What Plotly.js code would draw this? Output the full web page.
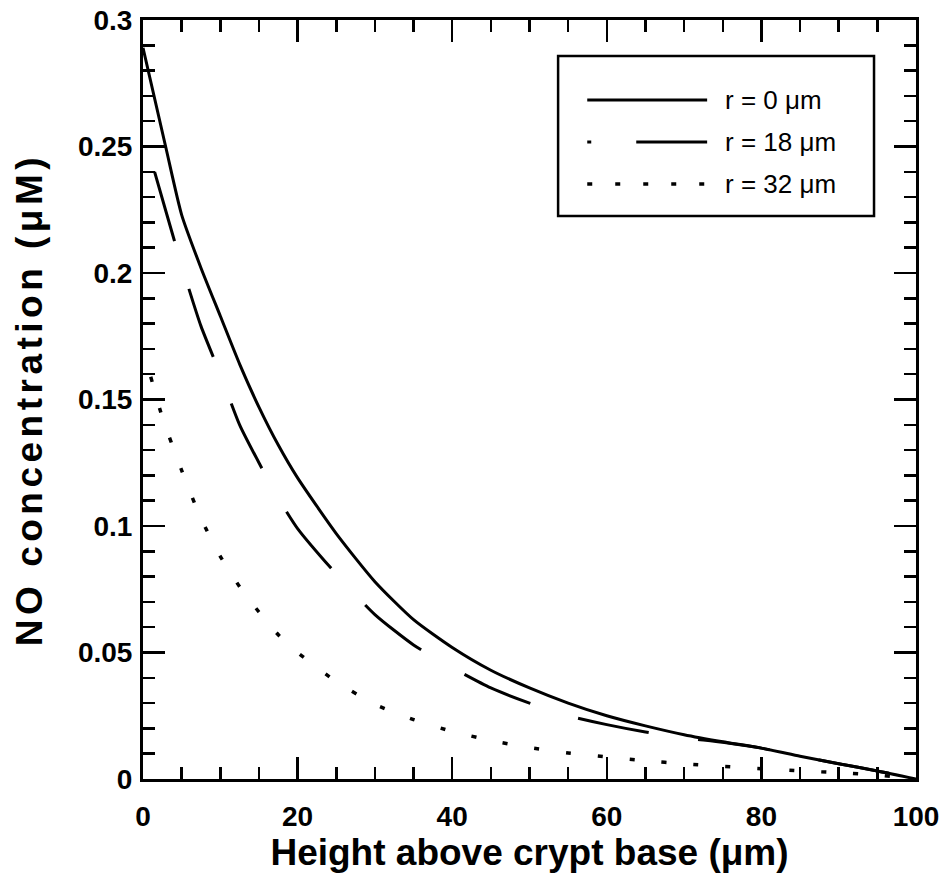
<!DOCTYPE html>
<html>
<head>
<meta charset="utf-8">
<script src="https://cdn.plot.ly/plotly-3.0.1.min.js"></script>
<style>
html,body{margin:0;padding:0;background:#fff;}
#chart{width:940px;height:892px;}
#chart .ytitle{letter-spacing:4.5px;}
</style>
</head>
<body>
<div id="chart"></div>
<script>
// Height above crypt base (µm)
const heightR0  = [0, 3, 5, 7.5, 10, 12.5, 15, 17.5, 20, 25, 30, 35, 40, 45, 50, 55, 60, 65, 70, 75, 80, 85, 90, 95, 100];
const heightR18 = [1.5, 3, 5, 7.5, 10, 12.5, 15, 17.5, 20, 25, 30, 35, 40, 45, 50, 55, 60, 65, 70, 75, 80, 85, 90, 95, 100];
const heightR32 = [1, 2.5, 5, 7.5, 10, 12.5, 15, 17.5, 20, 25, 30, 35, 40, 45, 50, 55, 60, 65, 70, 75, 80, 85, 90, 95, 100];
// NO concentration (µM)
const noR0  = [0.289, 0.249, 0.223, 0.202, 0.183, 0.164, 0.147, 0.132, 0.119, 0.097, 0.078, 0.063, 0.052, 0.043, 0.036, 0.030, 0.025, 0.021, 0.0175, 0.0147, 0.0122, 0.0090, 0.0060, 0.0032, 0];
const noR18 = [0.240, 0.224, 0.203, 0.179, 0.160, 0.140, 0.125, 0.111, 0.099, 0.081, 0.065, 0.053, 0.044, 0.036, 0.030, 0.025, 0.0215, 0.0186, 0.0163, 0.0145, 0.0122, 0.0090, 0.0060, 0.0032, 0];
const noR32 = [0.159, 0.143, 0.122, 0.103, 0.088, 0.076, 0.066, 0.057, 0.050, 0.0385, 0.0295, 0.0235, 0.0188, 0.0152, 0.0124, 0.0103, 0.0087, 0.0072, 0.0060, 0.0050, 0.0041, 0.0032, 0.0025, 0.0016, 0];
const seriesNames = ['r = 0 \u03bcm', 'r = 18 \u03bcm', 'r = 32 \u03bcm'];
const xTickVals = [0, 20, 40, 60, 80, 100];
const yTickVals = [0, 0.05, 0.1, 0.15, 0.2, 0.25, 0.3];
const yTickText = ['0', '0.05', '0.1', '0.15', '0.2', '0.25', '0.3'];

const FONT = 'Liberation Sans, Arial, Helvetica, sans-serif';
const traceDash = ['solid', '72px,50px', '5px,27px'];
const traceWidth = [3, 3, 3.5];
const legendDash = ['solid', '4px,45px,72px', '5px,23px'];

const traces = [
  {x: heightR0, y: noR0},
  {x: heightR18, y: noR18},
  {x: heightR32, y: noR32}
].map((t, i) => ({
  x: t.x, y: t.y, type: 'scatter', mode: 'lines', name: seriesNames[i],
  line: {color: '#000', width: traceWidth[i], dash: traceDash[i], shape: 'spline', smoothing: 0.6},
  showlegend: false, hoverinfo: 'skip'
}));

const L = {x0: 0.537, x1: 0.9457, y0: 0.7418, y1: 0.9526};
const rowsY = [0.8946, 0.8393, 0.7839];
const shapes = [{type: 'rect', xref: 'paper', yref: 'paper', x0: L.x0, x1: L.x1, y0: L.y0, y1: L.y1,
  line: {color: '#000', width: 2.5}, fillcolor: 'rgba(255,255,255,0)'}];
const annotations = [];
seriesNames.forEach((n, i) => {
  shapes.push({type: 'line', xref: 'paper', yref: 'paper', x0: 0.5747, x1: 0.7298, y0: rowsY[i], y1: rowsY[i],
    line: {color: '#000', width: traceWidth[i], dash: legendDash[i]}});
  annotations.push({xref: 'paper', yref: 'paper', x: 0.7505, y: rowsY[i], xanchor: 'left', yanchor: 'middle',
    text: n, showarrow: false, font: {family: FONT, size: 26, color: '#000'}});
});

const layout = {
  width: 940, height: 892,
  margin: {l: 142.5, r: 24, t: 20, b: 113},
  paper_bgcolor: '#fff', plot_bgcolor: '#fff',
  font: {family: FONT, color: '#000'},
  showlegend: false,
  xaxis: {
    range: [0, 100], tickvals: xTickVals, ticktext: xTickVals.map(String),
    ticks: 'inside', ticklen: 22, tickwidth: 2.5, tickcolor: '#000', ticklabelstandoff: 10,
    minor: {dtick: 5, ticks: 'inside', ticklen: 12, tickwidth: 2.5, tickcolor: '#000', showgrid: false},
    showline: true, linewidth: 3, linecolor: '#000', mirror: 'ticks',
    showgrid: false, zeroline: false,
    tickfont: {family: FONT, size: 28, weight: 'bold'},
    title: {text: 'Height above crypt base (\u03bcm)', font: {family: FONT, size: 37, weight: 'bold'}, standoff: 6}
  },
  yaxis: {
    range: [0, 0.3], tickvals: yTickVals, ticktext: yTickText,
    ticks: 'inside', ticklen: 22, tickwidth: 2.5, tickcolor: '#000', ticklabelstandoff: 2,
    minor: {dtick: 0.01, ticks: 'inside', ticklen: 12, tickwidth: 2.5, tickcolor: '#000', showgrid: false},
    showline: true, linewidth: 3, linecolor: '#000', mirror: 'ticks',
    showgrid: false, zeroline: false,
    tickfont: {family: FONT, size: 28, weight: 'bold'},
    title: {text: 'NO concentration (\u03bcM)', font: {family: FONT, size: 37, weight: 'bold'}, standoff: 24}
  },
  shapes: shapes,
  annotations: annotations
};

Plotly.newPlot('chart', traces, layout, {displayModeBar: false, staticPlot: true});
</script>
</body>
</html>
